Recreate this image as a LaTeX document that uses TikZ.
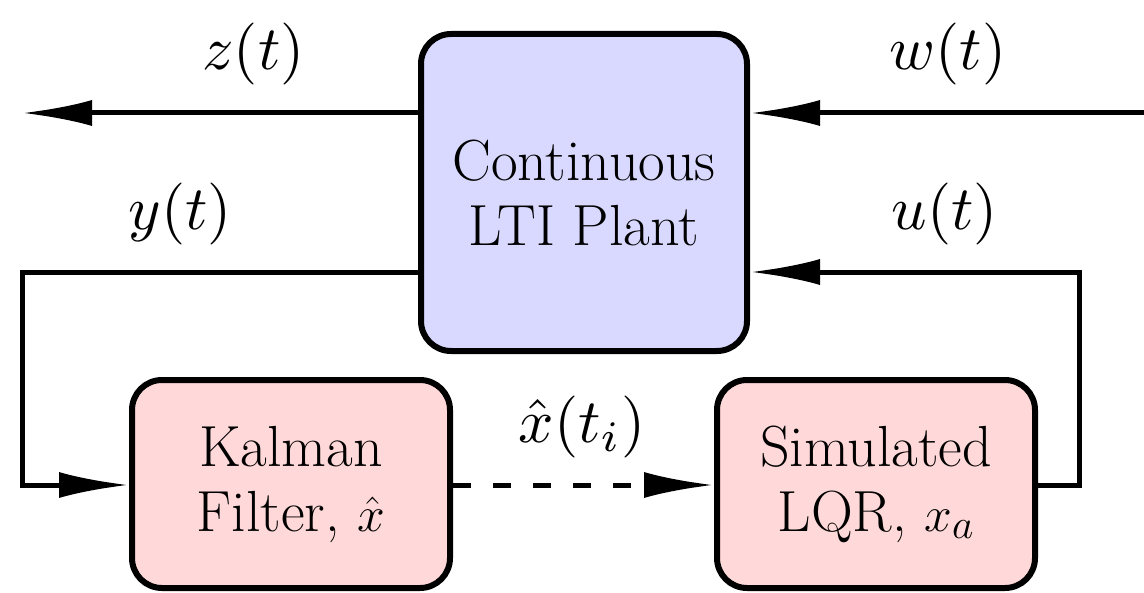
\documentclass[tikz,border=0pt]{standalone}
\usetikzlibrary{arrows.meta}
\begin{document}
\begin{tikzpicture}[x=0.5pt,y=-0.5pt,
  blk/.style={draw, line width=3pt, rounded corners=15pt, align=center, font=\fontsize{29}{32.5}\selectfont, inner sep=0pt},
  sig/.style={line width=2.5pt, -{Latex[length=35pt,width=13pt]}},
  lbl/.style={font=\fontsize{10}{12}\selectfont, inner sep=0pt}]
\useasboundingbox (0,0) rectangle (1144,593);
\node[blk, fill=blue!15, minimum width=163pt, minimum height=158.5pt] (plant) at (584,192.5) {Continuous\\LTI Plant};
\node[blk, fill=red!15, minimum width=159pt, minimum height=104pt] (kal) at (291,484) {Kalman\\Filter, $\hat{x}$};
\node[blk, fill=red!15, minimum width=159pt, minimum height=104pt] (lqr) at (876,484) {Simulated\\LQR, $x_a$};
\coordinate (zend) at (22,113);
\coordinate (win) at (1144,113);
\coordinate (yl) at (22,272);
\coordinate (yb) at (22,485);
\coordinate (ur) at (1079.5,485);
\coordinate (ut) at (1079.5,272);
\draw[sig] (plant.west |- zend) -- (zend);
\draw[sig] (win) -- (plant.east |- win);
\draw[sig] (plant.west |- yl) -- (yl) -- (yb) -- (kal.west |- yb);
\draw[sig] (lqr.east |- ur) -- (ur) -- (ut) -- (plant.east |- ut);
\draw[sig, dash pattern=on 9pt off 11pt] (kal.east |- yb) -- (lqr.west |- yb);
\node[lbl] (zl) at (253.5,54) {\scalebox{3.1}{$z(t)$}};
\node[lbl] (wl) at (948,54) {\scalebox{3.1}{$w(t)$}};
\node[lbl] (yll) at (180,214) {\scalebox{3.1}{$y(t)$}};
\node[lbl] (ull) at (945,214) {\scalebox{3.1}{$u(t)$}};
\node[lbl] (xl) at (582,427) {\scalebox{3.1}{$\hat{x}(t_i)$}};
\end{tikzpicture}
\end{document}
